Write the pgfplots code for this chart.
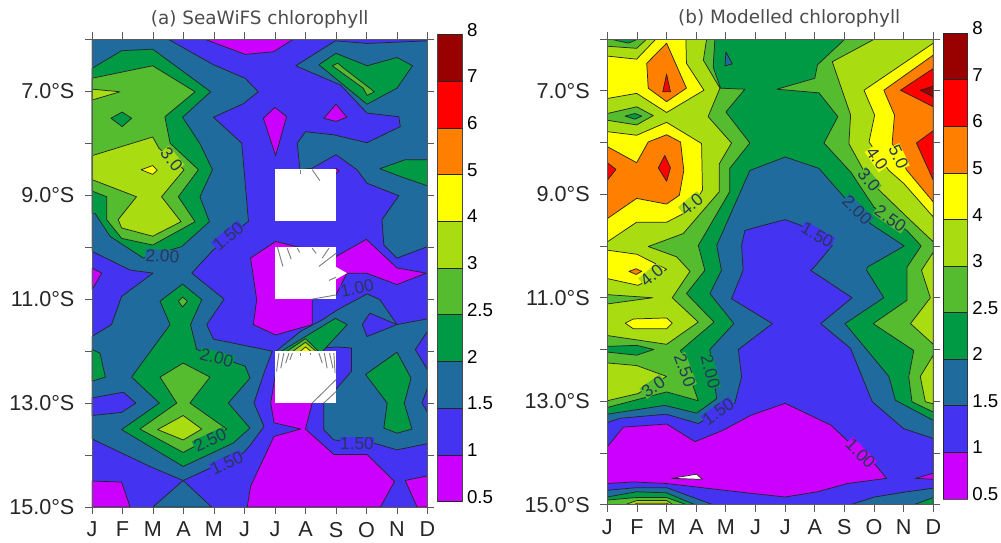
\documentclass[border=0pt]{standalone}
\usepackage{fontspec}
\setmainfont{Liberation Sans}
\newfontfamily\titlefont{DejaVu Sans}
\usepackage{pgfplots}
\pgfplotsset{compat=1.18}
\definecolor{cA}{HTML}{CC00FF}
\definecolor{cB}{HTML}{4433F0}
\definecolor{cC}{HTML}{1F6B9E}
\definecolor{cD}{HTML}{009944}
\definecolor{cE}{HTML}{55BB2F}
\definecolor{cF}{HTML}{AADD11}
\definecolor{cG}{HTML}{FFFF00}
\definecolor{cH}{HTML}{FF8000}
\definecolor{cI}{HTML}{FF0000}
\definecolor{cJ}{HTML}{990000}
\definecolor{axgray}{HTML}{5A5A5A}
\definecolor{lab}{HTML}{24385A}
\newcommand{\poly}[2]{\addplot[draw=black!85,line width=0.55pt,line join=round,fill=#1] coordinates {#2} -- cycle;}
\newcommand{\wpoly}[1]{\addplot[draw=none,fill=white] coordinates {#1} -- cycle;}
\newcommand{\seg}[4]{\addplot[draw=black!50,line width=0.7pt] coordinates {(#1,#2)(#3,#4)};}
\newcommand{\clab}[5]{\node[rotate=#4,fill=#5,inner sep=0.2pt,text=lab,font=\fontsize{13}{14}\selectfont] at (axis cs:#1,#2) {#3};}
\pgfplotsset{
  panel/.style={
    scale only axis, anchor=south west, axis on top,
    xmin=1,xmax=12,ymin=6,ymax=15,y dir=reverse,
    xtick={1,...,12},xticklabels={J,F,M,A,M,J,J,A,S,O,N,D},
    ytick={6,...,15},yticklabels={,7.0°S,,9.0°S,,11.0°S,,13.0°S,,15.0°S},
    tick align=outside, major tick length=5.2pt,
    axis line style={draw=axgray,line width=0.7pt},
    tick style={draw=axgray,line width=0.7pt},
    tick label style={font=\fontsize{16.2}{18}\selectfont,text=black!85},
    x tick label style={yshift=-2.5pt},
    y tick label style={xshift=-4.5pt},
  },
  bar/.style={
    scale only axis, anchor=south west,
    xmin=0,xmax=1,ymin=0,ymax=10,xtick=\empty,
    ytick={0,...,10},yticklabels={0.5,1,1.5,2,2.5,3,4,5,6,7,8},
    ytick pos=right,yticklabel pos=right,major tick length=0pt,
    axis line style={draw=axgray,line width=0.7pt},
    tick label style={font=\fontsize{14}{16}\selectfont,text=black,yshift=3.7pt},
  },
}
\newcommand{\barfill}{%
  \poly{cA}{(0,0)(1,0)(1,1)(0,1)}
  \poly{cB}{(0,1)(1,1)(1,2)(0,2)}
  \poly{cC}{(0,2)(1,2)(1,3)(0,3)}
  \poly{cD}{(0,3)(1,3)(1,4)(0,4)}
  \poly{cE}{(0,4)(1,4)(1,5)(0,5)}
  \poly{cF}{(0,5)(1,5)(1,6)(0,6)}
  \poly{cG}{(0,6)(1,6)(1,7)(0,7)}
  \poly{cH}{(0,7)(1,7)(1,8)(0,8)}
  \poly{cI}{(0,8)(1,8)(1,9)(0,9)}
  \poly{cJ}{(0,9)(1,9)(1,10)(0,10)}
}
\begin{document}
\begin{tikzpicture}
\path[use as bounding box] (0pt,0pt) rectangle (750.75pt,407.25pt);

% ---------- panel (a)
\begin{axis}[panel,at={(69pt,27pt)},width=251.6pt,height=350.8pt,
  title={\titlefont (a) SeaWiFS chlorophyll},
  title style={at={(0.5,1)},anchor=base,yshift=4.9pt,text=black!70,font=\fontsize{13.8}{15}\selectfont}]
\poly{cB}{(1,6)(12,6)(12,15)(1,15)}
% magenta
\poly{cA}{(4.70,6)(6.02,6.29)(6.95,6.24)(7.6,6.0)}
\poly{cA}{(6.62,7.52)(7,7.31)(7.38,7.49)(7.02,8.24)}
\poly{cA}{(9,7.25)(9.36,7.5)(9,7.58)(8.6,7.52)}
\poly{cA}{(8.9,8.53)(9,8.48)(9.1,8.53)(9,8.59)}
\poly{cA}{(7.02,9.89)(6.2,10.21)(6.4,11.01)(6.29,11.49)(7.02,11.69)(8.22,11.49)(8.22,11.0)(9,10.92)(9.36,10.5)(10,10.5)(11,10.72)(11.96,10.5)(11,10.4)(10,9.85)(9,10.18)}
\poly{cA}{(1,10.4)(1.32,10.5)(1,10.82)}
\poly{cA}{(1,14.5)(1.97,14.52)(2.25,15)(1,15)}
\poly{cA}{(6.09,15)(6.2,14.6)(6.97,13.64)(7.84,13.5)(6.97,13.38)(6.86,13)(7.02,12.42)(8.22,12.5)(8.22,13)(8,13.5)(8.93,13.99)(10.02,13.99)(10.92,14.51)(10.46,15)}
\poly{cA}{(11.27,14.49)(12,14.4)(12,15)(11.66,15)}
% steel
\poly{cC}{(1,6)(3.5,6)(4.98,6.49)(6.02,6.75)(6.45,7.01)(5.96,7.24)(4.98,7.5)(5.91,8)(6.13,9.5)(4.98,10.05)(4.27,10.5)(5.33,11)(4.76,11.49)(4.98,11.77)(6.91,12)(6.64,12.42)(6.31,13)(6.64,13.45)(6.2,13.8)(5.96,13.96)(3.99,14.49)(2.9,14.22)(1,13.69)(1,11.72)(1.64,11.49)(1.97,10.95)(3,10.5)(2.25,10.44)(1,10.08)}
\poly{cB}{(1,12.9)(2.03,12.79)(2.44,13)(1.97,13.18)(1,13.24)}
\poly{cC}{(3.99,14.49)(4.92,15)(3,15)}
\poly{cC}{(12,6.03)(10.02,6.08)(8.98,6.03)(7.68,6.51)(9.15,6.88)(10.02,7.42)(11.06,7.49)(11.11,7.68)(10.02,7.99)(8.93,7.84)(8,7.78)(7.73,8)(7.82,8.51)(8.22,8.48)(9,8.22)(9.69,8.51)(10.02,8.77)(11.06,9.01)(10.51,9.47)(10.57,9.96)(11,10.21)(12,9.99)}
\poly{cC}{(7.02,12.01)(7.84,11.62)(8.55,11.4)(9.04,11.21)(10.02,10.9)(10.44,11.01)(11,11.49)(12,11.38)(12,13.78)(11,13.9)(10.24,13.77)(8.93,13.71)(8.6,13.51)(8.6,13)(9.51,12.39)(9.51,11.94)(9,11.92)}
\poly{cB}{(10.11,11.27)(11,11.49)(10.02,11.72)(9.86,11.49)}
\poly{cB}{(12,11.62)(11.6,11.97)(12,12.36)}
\poly{cB}{(12,12.71)(11.82,13)(12,13.18)}
% green
\poly{cD}{(1,6.56)(1.97,6.22)(2.99,6.19)(4.89,7.01)(3.97,7.5)(4.54,8.01)(4.95,8.51)(4.54,9.03)(4.85,9.51)(3.94,9.99)(2.68,10.21)(1.59,9.79)(1.1,9.35)(1,9.35)}
\poly{cE}{(1,6.75)(2.99,6.51)(4.38,7.01)(3.39,7.49)(3.56,8)(4.49,8.51)(3.83,9.03)(4.38,9.51)(2.99,9.96)(1.97,9.83)(1.48,9.47)(1.48,9.03)(1,8.92)}
\poly{cD}{(1.62,7.52)(1.99,7.4)(2.3,7.52)(1.99,7.68)}
\poly{cF}{(1,6.96)(1.92,7.01)(1,7.17)}
\poly{cF}{(1,8.24)(2.99,7.88)(3.2,8.1)(4.02,8.51)(3.28,9.03)(3.92,9.51)(2.99,9.79)(1.97,9.63)(1.86,9.47)(2.46,9.03)(1,8.7)}
\poly{cG}{(2.61,8.51)(2.99,8.43)(3.14,8.52)(2.99,8.6)}
\poly{cD}{(8.44,6.49)(9,6.27)(10.02,6.51)(11,6.35)(11.51,6.51)(11,6.94)(10.02,7.25)}
\poly{cE}{(8.88,6.51)(9.06,6.46)(9.26,6.56)(10.26,7.01)(10.02,7.08)(9.89,6.94)}
\poly{cD}{(12,8.32)(11.26,8.32)(10.44,8.49)(11.11,8.64)(12,8.82)}
\poly{cD}{(1,11.97)(1.26,12.04)(1.44,12.5)(1,12.58)}
\poly{cD}{(3.23,11.04)(3.97,10.71)(4.6,11.01)(4.23,11.49)(4.43,11.97)(6.02,12.29)(6.18,12.52)(5.47,13)(6.18,13.48)(5.63,13.77)(3.99,14.22)(1.97,13.51)(3.21,13)(2.3,12.5)(3.56,11.49)}
\poly{cE}{(3.83,11.04)(3.97,10.96)(4.13,11.04)(3.97,11.15)}
\poly{cE}{(3.23,12.5)(3.99,12.23)(4.87,12.5)(4.21,13)(5.42,13.5)(3.99,13.95)(2.57,13.5)(3.78,13)}
\poly{cF}{(3.15,13.51)(3.99,13.24)(4.6,13.5)(3.99,13.71)}
\poly{cD}{(7.19,12.01)(8,11.72)(8.98,11.37)(9.37,11.49)(8.55,12.01)}
\poly{cE}{(7.38,12.01)(8,11.76)(8.44,12.01)}
\poly{cF}{(7.57,12.01)(8,11.83)(8.36,12.01)}
\poly{cG}{(7.82,12.01)(8,11.92)(8.19,12.01)}
\poly{cD}{(9.97,12.45)(11,12.02)(11.46,12.52)(11.24,13)(11.49,13.5)(11,13.58)(10.57,13.48)(10.68,13)}
% missing data
\wpoly{(7,8.5)(9,8.5)(9,9.5)(7,9.5)}
\wpoly{(7,10)(9,10)(9,11)(7,11)}
\wpoly{(9,10.38)(9.36,10.5)(9,10.62)}
\wpoly{(7,12)(9,12)(9,13)(7,13)}
\seg{7.82}{8.51}{7.82}{8.59}\seg{8.22}{8.51}{8.47}{8.72}
\seg{7.08}{10}{7.26}{10.37}\seg{7.4}{10.02}{7.53}{10.23}\seg{7.73}{10.02}{7.81}{10.1}\seg{8.22}{10.02}{8.35}{10.12}
\seg{9}{10.12}{8.44}{10.37}\seg{8.77}{10.02}{8.55}{10.21}\seg{9}{10.58}{8.77}{10.64}\seg{9}{10.92}{8.22}{11}
\seg{7.13}{12.04}{7.05}{12.39}\seg{7.29}{12.04}{7.19}{12.33}\seg{7.46}{12.04}{7.35}{12.23}\seg{7.57}{12.04}{7.49}{12.17}
\seg{7.84}{12.04}{7.84}{12.09}\seg{8.17}{12.04}{8.17}{12.08}\seg{8.44}{12.04}{8.55}{12.23}\seg{8.62}{12.04}{8.71}{12.33}
\seg{8.79}{12.04}{8.9}{12.33}\seg{8.93}{12.04}{8.97}{12.42}\seg{9}{12.55}{8.22}{13}\seg{9}{12.78}{8.6}{13}
% contour labels
\clab{3.61}{8.31}{3.0}{-50}{cF}
\clab{3.31}{10.17}{2.00}{-3}{cC}
\clab{5.47}{9.79}{1.50}{40}{cB}
\clab{5.09}{12.13}{2.00}{-15}{cD}
\clab{4.87}{13.71}{2.50}{25}{cD}
\clab{5.42}{14.15}{1.50}{25}{cB}
\clab{9.69}{10.79}{1.00}{12}{cB}
\clab{9.69}{13.77}{1.50}{0}{cB}
\end{axis}

\begin{axis}[bar,at={(328.3pt,31pt)},width=18.45pt,height=350.25pt]
\barfill
\end{axis}

% ---------- panel (b)
\begin{axis}[panel,at={(455.5pt,28.7pt)},width=244.5pt,height=349.3pt,
  title={\titlefont (b) Modelled chlorophyll},
  title style={at={(0.558,1)},anchor=base,yshift=5.7pt,text=black!70,font=\fontsize{13.8}{15}\selectfont}]
\poly{cD}{(1,6)(12,6)(12,15)(1,15)}
% left side
\poly{cE}{(1,6)(4.63,6)(4.57,6.54)(4.82,6.95)(5.64,6.97)(5,7.41)(5.81,8.01)(5.13,8.5)(5.13,8.95)(4.07,9.99)(4.29,10.47)(3.67,10.92)(4.6,11.47)(3.47,12.02)(4.07,12.99)(3,12.82)(1,13.12)}
\poly{cD}{(1.09,6)(1.71,6.08)(2.04,6)}
\poly{cF}{(2.33,6)(4.35,6)(4.24,6.41)(4.8,6.95)(4.4,7.5)(5.19,8.01)(4.78,8.41)(4.78,8.95)(3.56,9.76)(2.38,10.01)(3.34,10.21)(3.79,10.49)(3.19,11)(4.07,11.47)(3,11.9)(1,11.73)(1,6.14)(1.99,6.18)}
\poly{cG}{(2.64,6)(3.65,6)(3.67,6.47)(4.26,6.99)(3,7.42)(1.99,7.05)(1,7.15)(1,6.33)(1.99,6.39)}
\poly{cH}{(3,6.08)(3.67,6.95)(3,7.21)(2.38,6.95)(2.33,6.47)}
\poly{cI}{(3,6.68)(3.13,7.02)(2.87,7.02)}
\poly{cE}{(1,7.44)(1.99,7.31)(2.55,7.48)(1.99,7.66)(1,7.57)}
\poly{cD}{(1.6,7.49)(1.93,7.44)(2.16,7.49)(1.93,7.55)}
\poly{cG}{(1,7.79)(1.99,7.86)(3,7.61)(4.18,8.02)(4.21,8.92)(3.79,9.31)(3,9.54)(1.99,9.54)(1,9.92)}
\poly{cH}{(1,8.08)(1.99,8.39)(2.38,7.99)(3,7.85)(3.47,7.99)(3.58,8.54)(3.43,9.02)(3,9.19)(1.99,9.08)(1,9.47)}
\poly{cI}{(2.72,8.49)(2.94,8.25)(3.13,8.49)(3,8.75)}
\poly{cI}{(1,8.39)(1.29,8.52)(1,8.73)}
\poly{cG}{(1,10.08)(2,10.16)(3,10.45)(2.6,10.6)(2.04,10.76)(1,10.63)}
\poly{cH}{(1.73,10.49)(1.97,10.44)(2.16,10.49)(1.97,10.55)}
\poly{cE}{(1,10.94)(2.53,11)(1,11.12)}
\poly{cG}{(1.6,11.49)(1.88,11.41)(3,11.39)(3.19,11.49)(3,11.6)(1.88,11.6)}
\poly{cD}{(1,11.94)(1.99,11.92)(2.57,12)(1.99,12.11)(1,12.05)}
\poly{cF}{(1,12.26)(1.99,12.31)(3,12.52)(2.04,12.85)(1,12.99)}
% right side
\poly{cE}{(9.02,6)(8.09,6.5)(8,6.76)(6.72,6.97)(8.14,7.04)(8.78,7.5)(8.31,8.01)(9.21,8.57)(10,9.25)(11.11,9.7)(11.59,10)(11.11,10.41)(11.11,11.05)(9.97,11.5)(11.34,12.02)(11.17,12.53)(11.28,13.01)(12,13.21)(12,6)}
\poly{cF}{(10.02,6)(8.59,6.44)(9.21,7.47)(9.15,8.02)(9.83,8.73)(11.11,9.44)(12,9.92)(12,6)}
\poly{cF}{(12,10.12)(11.6,10.47)(11.9,11)(11.23,11.5)(12,11.9)}
\poly{cF}{(12,12.11)(11.56,12.52)(11.73,13.01)(12,13.05)}
\poly{cG}{(12,6.08)(9.66,6.99)(10.02,7.47)(9.83,7.99)(10.5,8.54)(11,8.79)(12,9.44)}
\poly{cH}{(12,6.31)(10.33,6.99)(10.69,7.47)(10.61,8.02)(11.11,8.54)(12,9.15)}
\poly{cI}{(12,6.57)(10.89,6.99)(12,7.31)}
\poly{cI}{(12,7.77)(11.43,8.01)(12,8.73)}
\poly{cJ}{(12,6.91)(11.56,6.99)(12,7.12)}
\poly{cC}{(5,6.25)(5.22,6.48)(4.97,6.52)}
% centre
\poly{cC}{(1,13.25)(2.94,13.08)(4.01,13.23)(4.69,12.95)(4.46,12)(5.27,11.5)(4.46,10.92)(4.85,10.47)(4.69,9.99)(5.81,8.54)(7,8.28)(8.14,8.5)(8.98,9.05)(9.88,9.57)(11.02,10)(9.77,10.41)(9.75,10.47)(10.33,11)(9.02,11.5)(10.5,12.52)(10.72,12.98)(12,13.37)(12,15)(1,15)}
\poly{cB}{(1,13.41)(1.43,13.33)(2.98,13.25)(4.07,13.43)(5.3,13.04)(5.53,12.53)(5.42,12)(6.57,11.5)(5.19,11.02)(5.58,10.47)(5.53,9.99)(5.64,9.7)(6.07,9.63)(7,9.49)(7.53,9.6)(8.59,9.99)(7.98,10.41)(7.86,10.47)(9.26,11)(8.2,11.5)(9.21,11.98)(9.71,12.69)(9.94,13.01)(11,13.53)(12,13.72)(12,14.68)(11.11,14.75)(10.02,14.85)(9.21,15)(4.57,15)(3,14.67)(1.99,14.67)(1,14.72)}
\poly{cA}{(1,13.88)(1.54,13.5)(3,13.44)(3.96,13.78)(4.91,13.56)(5.85,13.27)(7,13.04)(8.54,13.46)(9.21,13.82)(10.05,14.23)(10.42,14.49)(9.1,14.59)(8.09,14.75)(7,14.85)(5.85,14.78)(3,14.59)(1.88,14.56)(1,14.59)}
\poly{white}{(3.17,14.49)(4.01,14.41)(4.21,14.51)}
\poly{cA}{(11.39,14.49)(12,14.39)(12,14.51)}
\poly{cD}{(1,14.85)(1.99,14.75)(3,14.77)(3.96,15)(1,15)}
\poly{cE}{(1,14.91)(1.99,14.86)(3,14.86)(3.67,15)(1,15)}
\poly{cF}{(1.6,15)(1.99,14.92)(3,14.92)(3.22,15)}
\poly{cG}{(1.9,15)(2,14.97)(3,14.97)(3.1,15)}
\poly{cD}{(11.34,15)(12,14.86)(12,15)}
% contour labels
\clab{3.84}{9.19}{4.0}{40}{cF}
\clab{2.5}{10.57}{4.0}{40}{cF}
\clab{2.55}{12.72}{3.0}{35}{cE}
\clab{3.62}{12.4}{2.50}{-70}{cE}
\clab{4.48}{12.43}{2.00}{-75}{cD}
\clab{4.74}{13.2}{1.50}{35}{cB}
\clab{8.09}{9.79}{1.50}{-30}{cB}
\clab{9.43}{9.31}{2.00}{-45}{cC}
\clab{9.83}{8.73}{3.0}{-50}{cE}
\clab{10.55}{9.47}{2.50}{-35}{cE}
\clab{10.1}{8.31}{4.0}{-55}{cG}
\clab{10.83}{8.28}{5.0}{-65}{cG}
\clab{9.54}{14.01}{1.00}{-45}{cA}
\end{axis}

\begin{axis}[bar,at={(707.25pt,33pt)},width=18.5pt,height=349.3pt]
\barfill
\end{axis}
\end{tikzpicture}
\end{document}
